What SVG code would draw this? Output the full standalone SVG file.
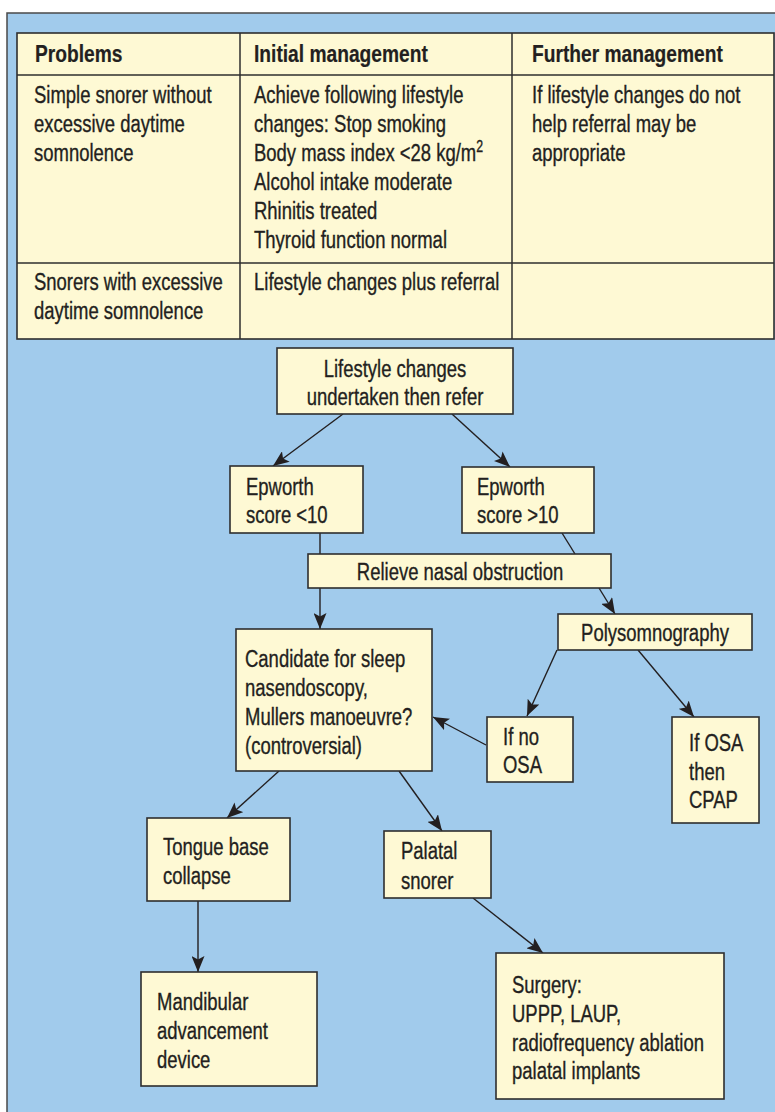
<svg xmlns="http://www.w3.org/2000/svg" width="775" height="1112" viewBox="0 0 775 1112">
<defs>
<style>
.panel{fill:#a1cbec;stroke:#4a4a4a;stroke-width:1.5}
.box{fill:#fef9d4;stroke:#2e2e2e;stroke-width:1.6}
.grid{fill:none;stroke:#2e2e2e;stroke-width:1.5}
.t{font-family:"Liberation Sans",Arial,sans-serif;font-size:24px;fill:#231f20;stroke:#231f20;stroke-width:0.35}
.b{font-weight:bold;stroke-width:0.2}
.c{fill:none;stroke:#231f20;stroke-width:1.4}
.a{marker-end:url(#arr)}
</style>
<marker id="arr" markerUnits="userSpaceOnUse" markerWidth="17" markerHeight="13" refX="16" refY="6.5" orient="auto">
<path d="M0,0 L16,6.5 L0,13 L3.5,6.5 Z" fill="#231f20"/>
</marker>
</defs>
<rect class="panel" x="7" y="13" width="775" height="1110"/>
<g id="table">
<rect class="box" x="17" y="33" width="757" height="306"/>
<line class="grid" x1="17" y1="75" x2="774" y2="75"/>
<line class="grid" x1="17" y1="263" x2="774" y2="263"/>
<line class="grid" x1="240" y1="33" x2="240" y2="339"/>
<line class="grid" x1="512" y1="33" x2="512" y2="339"/>
<text class="t b" transform="translate(35,62) scale(0.8,1)">Problems</text>
<text class="t b" transform="translate(254,62) scale(0.8,1)">Initial management</text>
<text class="t b" transform="translate(532,62) scale(0.8,1)">Further management</text>
<text class="t" transform="translate(34,103) scale(0.77,1)"><tspan x="0">Simple snorer without</tspan><tspan x="0" dy="29">excessive daytime</tspan><tspan x="0" dy="29">somnolence</tspan></text>
<text class="t" transform="translate(254,103) scale(0.77,1)"><tspan x="0">Achieve following lifestyle</tspan><tspan x="0" dy="29">changes: Stop smoking</tspan><tspan x="0" dy="29">Body mass index &lt;28 kg/m</tspan><tspan font-size="16" dy="-9">2</tspan><tspan x="0" dy="38">Alcohol intake moderate</tspan><tspan x="0" dy="29">Rhinitis treated</tspan><tspan x="0" dy="29">Thyroid function normal</tspan></text>
<text class="t" transform="translate(532,103) scale(0.77,1)"><tspan x="0">If lifestyle changes do not</tspan><tspan x="0" dy="29">help referral may be</tspan><tspan x="0" dy="29">appropriate</tspan></text>
<text class="t" transform="translate(34,290) scale(0.77,1)"><tspan x="0">Snorers with excessive</tspan><tspan x="0" dy="29">daytime somnolence</tspan></text>
<text class="t" transform="translate(254,290) scale(0.77,1)">Lifestyle changes plus referral</text>
</g>
<g id="connectors">
<line class="c a" x1="343" y1="414" x2="273" y2="466"/>
<line class="c a" x1="452" y1="414" x2="510" y2="467"/>
<line class="c" x1="320" y1="533" x2="320" y2="554"/>
<line class="c" x1="562" y1="533" x2="575" y2="554"/>
<line class="c a" x1="320" y1="588" x2="320" y2="629"/>
<line class="c a" x1="599" y1="588" x2="615" y2="614"/>
<line class="c a" x1="557" y1="650" x2="527" y2="716"/>
<line class="c a" x1="638" y1="650" x2="694" y2="717"/>
<line class="c a" x1="486" y1="745" x2="433" y2="717"/>
<line class="c a" x1="279" y1="771" x2="227" y2="818"/>
<line class="c a" x1="399" y1="771" x2="442" y2="831"/>
<line class="c a" x1="198" y1="901" x2="198" y2="972"/>
<line class="c a" x1="473" y1="898" x2="543" y2="953"/>
</g>
<g id="lifestyle">
<rect class="box" x="277" y="348" width="236" height="66"/>
<text class="t" text-anchor="middle" transform="translate(395,377) scale(0.77,1)"><tspan x="0">Lifestyle changes</tspan><tspan x="0" dy="28">undertaken then refer</tspan></text>
</g>
<g id="epworth-low">
<rect class="box" x="230" y="466" width="133" height="67"/>
<text class="t" transform="translate(246,495) scale(0.77,1)"><tspan x="0">Epworth</tspan><tspan x="0" dy="28">score &lt;10</tspan></text>
</g>
<g id="epworth-high">
<rect class="box" x="462" y="467" width="132" height="66"/>
<text class="t" transform="translate(477,495) scale(0.77,1)"><tspan x="0">Epworth</tspan><tspan x="0" dy="28">score &gt;10</tspan></text>
</g>
<g id="relieve">
<rect class="box" x="308" y="554" width="303" height="34"/>
<text class="t" text-anchor="middle" transform="translate(460,580) scale(0.77,1)">Relieve nasal obstruction</text>
</g>
<g id="polysomnography">
<rect class="box" x="558" y="614" width="194" height="36"/>
<text class="t" text-anchor="middle" transform="translate(655,641) scale(0.77,1)">Polysomnography</text>
</g>
<g id="candidate">
<rect class="box" x="236" y="629" width="196" height="142"/>
<text class="t" transform="translate(245,667) scale(0.77,1)"><tspan x="0">Candidate for sleep</tspan><tspan x="0" dy="29">nasendoscopy,</tspan><tspan x="0" dy="29">Mullers manoeuvre?</tspan><tspan x="0" dy="29">(controversial)</tspan></text>
</g>
<g id="no-osa">
<rect class="box" x="487" y="717" width="86" height="65"/>
<text class="t" transform="translate(503,745) scale(0.77,1)"><tspan x="0">If no</tspan><tspan x="0" dy="28">OSA</tspan></text>
</g>
<g id="osa-cpap">
<rect class="box" x="672" y="717" width="87" height="106"/>
<text class="t" transform="translate(689,751) scale(0.77,1)"><tspan x="0">If OSA</tspan><tspan x="0" dy="29">then</tspan><tspan x="0" dy="28">CPAP</tspan></text>
</g>
<g id="tongue">
<rect class="box" x="147" y="818" width="143" height="83"/>
<text class="t" transform="translate(163,855) scale(0.77,1)"><tspan x="0">Tongue base</tspan><tspan x="0" dy="29">collapse</tspan></text>
</g>
<g id="palatal">
<rect class="box" x="384" y="831" width="107" height="67"/>
<text class="t" transform="translate(401,859) scale(0.77,1)"><tspan x="0">Palatal</tspan><tspan x="0" dy="30">snorer</tspan></text>
</g>
<g id="mandibular">
<rect class="box" x="141" y="972" width="176" height="114"/>
<text class="t" transform="translate(157,1010) scale(0.77,1)"><tspan x="0">Mandibular</tspan><tspan x="0" dy="29">advancement</tspan><tspan x="0" dy="29">device</tspan></text>
</g>
<g id="surgery">
<rect class="box" x="496" y="953" width="228" height="146"/>
<text class="t" transform="translate(512,993) scale(0.77,1)"><tspan x="0">Surgery:</tspan><tspan x="0" dy="29">UPPP, LAUP,</tspan><tspan x="0" dy="29">radiofrequency ablation</tspan><tspan x="0" dy="28">palatal implants</tspan></text>
</g>
</svg>
